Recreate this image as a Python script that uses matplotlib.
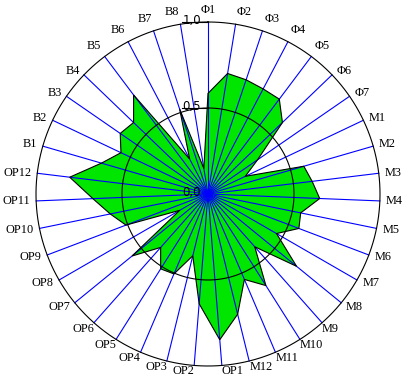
import numpy as np
import matplotlib.pyplot as plt

plt.rcParams.update({
    "font.family": "serif",
    "font.serif": ["Liberation Serif", "DejaVu Serif"],
    "font.size": 8.8,
})

# categories, clockwise from the top
phi_labels = ["Φ1", "Φ2", "Φ3", "Φ4", "Φ5", "Φ6", "Φ7"]
m_labels = ["M1", "M2", "M3", "M4", "M5", "M6", "M7", "M8", "M9", "M10", "M11", "M12"]
op_labels = ["OP1", "OP2", "OP3", "OP4", "OP5", "OP6", "OP7", "OP8", "OP9", "OP10", "OP11", "OP12"]
b_labels = ["B1", "B2", "B3", "B4", "B5", "B6", "B7", "B8"]

# values (0..1)
phi_values = [0.585, 0.71, 0.70, 0.69, 0.69, 0.60, 0.35]
m_values = [0.24, 0.58, 0.61, 0.65, 0.55, 0.565, 0.46, 0.665, 0.41, 0.63, 0.54, 0.72]
op_values = [0.85, 0.64, 0.37, 0.505, 0.515, 0.415, 0.57, 0.19, 0.51, 0.58, 0.67, 0.81]
b_values = [0.645, 0.56, 0.62, 0.60, 0.72, 0.23, 0.52, 0.15]

r_ticks = [0.0, 0.5, 1.0]
r_tick_labels = ["0,0", "0,5", "1,0"]

labels = phi_labels + m_labels + op_labels + b_labels
values = np.array(phi_values + m_values + op_values + b_values)
n = len(labels)
theta = np.arange(n) * 2 * np.pi / n  # clockwise from 12 o'clock

# polar -> cartesian (x right, y up)
def to_xy(t, r):
    return r * np.sin(t), r * np.cos(t)

W, H = 405, 378
R = 172.0
cx, cy = 208, 194

fig = plt.figure(figsize=(W / 100, H / 100), dpi=100)
ax = fig.add_axes([0, 0, 1, 1])
ax.set_xlim(-cx / R, (W - cx) / R)
ax.set_ylim(-(H - cy) / R, cy / R)
ax.axis("off")

# data polygon
px, py = to_xy(theta, values)
ax.fill(px, py, facecolor="#00e600", edgecolor="none", zorder=1)

# spokes
for t in theta:
    sx, sy = to_xy(t, 1.0)
    ax.plot([0, sx], [0, sy], color="#0000ff", lw=0.8, zorder=2)

ax.fill(px, py, facecolor="none", edgecolor="black", lw=0.8, zorder=3)

# circles
tt = np.linspace(0, 2 * np.pi, 400)
for rr in [0.5, 1.0]:
    ax.plot(*to_xy(tt, rr), color="black", lw=0.8, zorder=3)

# radial scale on the first axis
for rv, lab in zip(r_ticks, r_tick_labels):
    if rv > 0:
        ax.plot([-0.15, 0], [rv, rv], color="black", lw=0.8, zorder=3)
    ax.text(-0.15, rv + 0.01, lab, ha="left", va="center", fontsize=8.5,
            family=["DejaVu Sans"], zorder=4)

# category labels
for t, lab in zip(theta, labels):
    s, c = np.sin(t), np.cos(t)
    if s > 0.05:
        ha = "left"
    elif s < -0.05:
        ha = "right"
    else:
        ha = "center"
    rad = 1.035
    if c > 0.7:
        va = "bottom"
    elif c < -0.7:
        va = "top"
        rad = 1.0
    else:
        va = "center"
    lx, ly = to_xy(t, rad)
    ax.text(lx, ly, lab, ha=ha, va=va)

fig.savefig("out.png", dpi=100)
